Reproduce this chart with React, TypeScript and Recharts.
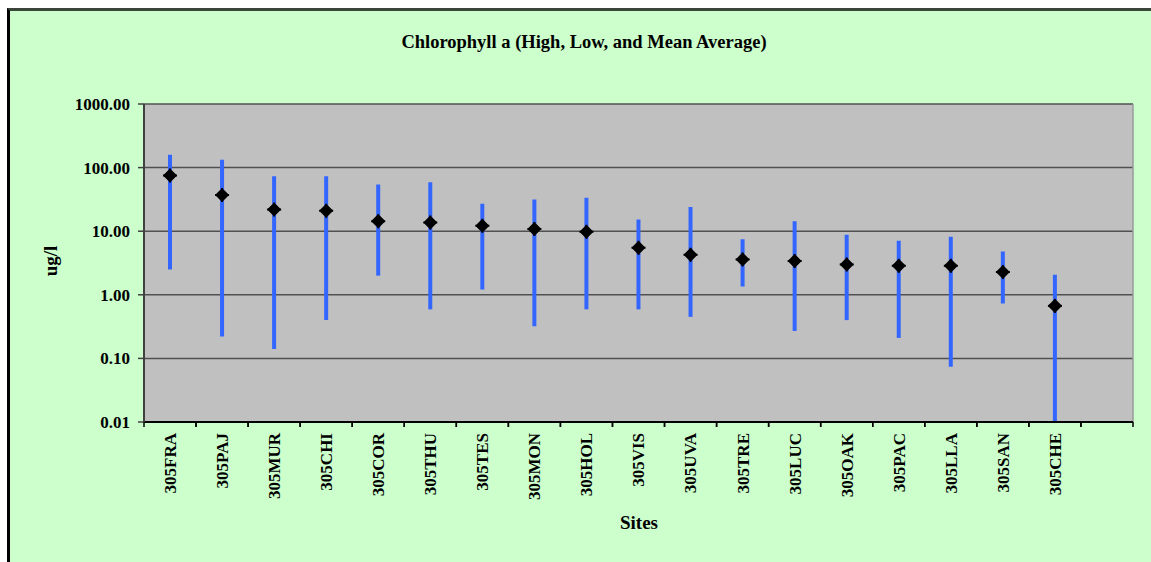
import React from "react";
import {
  ComposedChart,
  Bar,
  Line,
  XAxis,
  YAxis,
  CartesianGrid,
} from "recharts";

const sites = [
  "305FRA", "305PAJ", "305MUR", "305CHI", "305COR", "305THU", "305TES", "305MON", "305HOL",
  "305VIS", "305UVA", "305TRE", "305LUC", "305OAK", "305PAC", "305LLA", "305SAN", "305CHE",
];
const highs = [159, 133, 73, 73, 54, 59, 27, 31.5, 33.5, 15.3, 24, 7.5, 14.4, 8.8, 7.1, 8.2, 4.8, 2.06];
const lows = [2.5, 0.22, 0.14, 0.4, 2.0, 0.59, 1.21, 0.32, 0.59, 0.59, 0.45, 1.35, 0.27, 0.4, 0.21, 0.074, 0.73, 0.01];
const means = [75, 37, 22, 21, 14.4, 13.7, 12.2, 10.8, 9.8, 5.5, 4.25, 3.6, 3.4, 3.0, 2.86, 2.86, 2.28, 0.67];
const yTicks = [0.01, 0.1, 1, 10, 100, 1000];

const title = "Chlorophyll a (High, Low, and Mean Average)";
const xTitle = "Sites";
const yTitle = "ug/l";

const data = [
  ...sites.map((s, i) => ({ site: s, range: [lows[i], highs[i]], mean: means[i] })),
  { site: "", range: null, mean: null },
];

const FONT = "'Liberation Serif', 'Times New Roman', serif";

const XTick = (props: any) => {
  const { x, y, payload } = props;
  const off = payload && typeof payload.offset === "number" ? payload.offset : 26;
  return (
    <g>
      <line x1={x - off} y1={y} x2={x - off} y2={y + 5} stroke="#000" strokeWidth={1.5} />
      <line x1={x + off} y1={y} x2={x + off} y2={y + 5} stroke="#000" strokeWidth={1.5} />
      {payload.value ? (
        <text
          x={x}
          y={y + 11}
          transform={`rotate(-90, ${x}, ${y + 11})`}
          textAnchor="end"
          dy="0.35em"
          fontFamily={FONT}
          fontWeight="bold"
          fontSize={17}
          fill="#000"
        >
          {payload.value}
        </text>
      ) : null}
    </g>
  );
};

const Diamond = (props: any) => {
  const { cx, cy } = props;
  if (cx == null || cy == null || props.value == null) return <g />;
  const r = 6;
  return (
    <g>
      <path
        d={`M${cx},${cy - r} L${cx + r},${cy} L${cx},${cy + r} L${cx - r},${cy} Z`}
        fill="#000"
        stroke="#000"
        strokeWidth={1.5}
        strokeLinejoin="round"
      />
      <line x1={cx - 7} y1={cy} x2={cx + 7} y2={cy} stroke="#000" strokeWidth={2} />
      <line x1={cx} y1={cy - 7} x2={cx} y2={cy + 7} stroke="#000" strokeWidth={2} />
    </g>
  );
};

export default function App() {
  return (
    <div style={{ position: "fixed", left: 0, top: 0, width: 1151, height: 562, background: "#fff", overflow: "hidden" }}>
      <div
        style={{
          position: "absolute",
          left: 7,
          top: 8,
          width: 1200,
          height: 600,
          background: "#CCFFCC",
          borderTop: "3px solid #3a463a",
          borderLeft: "3px solid #000",
        }}
      />
      <div style={{ position: "absolute", left: 0, top: 0 }}>
        <ComposedChart
          width={1151}
          height={562}
          data={data}
          margin={{ top: 104, right: 18, bottom: 0, left: 0 }}
        >
          <CartesianGrid
            horizontal={true}
            vertical={false}
            stroke="#505050"
            strokeWidth={1.5}
            fill="#C0C0C0"
            fillOpacity={1}
          />
          <CartesianGrid
            horizontal={false}
            vertical={true}
            stroke="#9a9a9a"
            strokeWidth={1.5}
            verticalCoordinatesGenerator={({ offset }: any) => [offset.left + offset.width]}
          />
          <XAxis
            dataKey="site"
            type="category"
            interval={0}
            height={140}
            tickLine={false}
            tickSize={0}
            tickMargin={0}
            axisLine={{ stroke: "#000", strokeWidth: 2 }}
            tick={<XTick />}
          />
          <YAxis
            type="number"
            scale="log"
            domain={[0.01, 1000]}
            ticks={yTicks}
            allowDataOverflow
            width={144}
            tickSize={6}
            tickMargin={8}
            tickLine={{ stroke: "#404040", strokeWidth: 1.5 }}
            axisLine={{ stroke: "#404040", strokeWidth: 2 }}
            tickFormatter={(v: number) => v.toFixed(2)}
            tick={{ fontFamily: FONT, fontWeight: "bold", fontSize: 17, fill: "#000" }}
          />
          <Bar dataKey="range" fill="#3366FF" barSize={4} isAnimationActive={false} />
          <Line
            dataKey="mean"
            stroke="none"
            dot={<Diamond />}
            activeDot={false}
            isAnimationActive={false}
            connectNulls={false}
          />
          <text x={584} y={48} textAnchor="middle" fontFamily={FONT} fontWeight="bold" fontSize={18.5} fill="#000">
            {title}
          </text>
          <text x={639} y={529} textAnchor="middle" fontFamily={FONT} fontWeight="bold" fontSize={19} fill="#000">
            {xTitle}
          </text>
          <text
            x={50}
            y={261}
            transform="rotate(-90, 50, 261)"
            textAnchor="middle"
            dy="0.35em"
            fontFamily={FONT}
            fontWeight="bold"
            fontSize={19}
            fill="#000"
          >
            {yTitle}
          </text>
        </ComposedChart>
      </div>
    </div>
  );
}
